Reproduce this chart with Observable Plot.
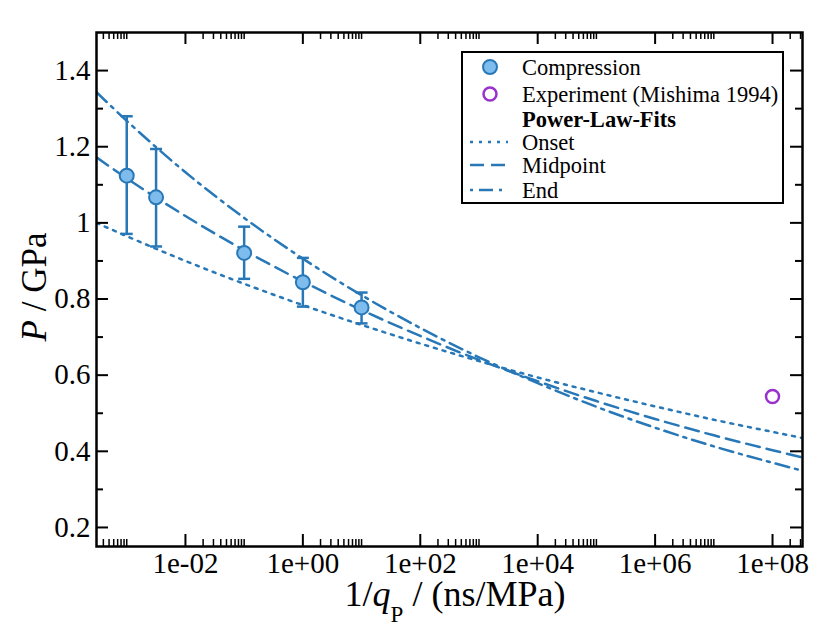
<!DOCTYPE html>
<html><head><meta charset="utf-8">
<script src="https://cdn.jsdelivr.net/npm/d3@7"></script>
<script src="https://cdn.jsdelivr.net/npm/@observablehq/plot@0.6"></script>
<style>body{margin:0;background:#fff}#chart{width:830px;height:642px}#chart svg, #chart svg text{font-family:"Liberation Serif", "Times New Roman", serif !important}</style>
</head><body><div id="chart"></div>
<script>
// Compression data (symbols with error bars)
const compX = [1e-3, 3.16e-3, 0.1, 1, 10];
const compP = [1.124, 1.067, 0.921, 0.844, 0.778];
const compLo = [0.971, 0.938, 0.853, 0.780, 0.736];
const compHi = [1.280, 1.194, 0.990, 0.908, 0.817];
// Experiment (Mishima 1994)
const expX = [1e8];
const expP = [0.544];
// Power-law fits, values
const fitX = [3.055e-4, 1e-3, 1e-2, 1e-1, 1, 10, 1e2, 1e3, 1e4, 1e5, 1e6, 1e7, 1e8, 3.24e8];
const onsetP = [1.000, 0.965, 0.900, 0.840, 0.784, 0.732, 0.683, 0.637, 0.594, 0.555, 0.518, 0.483, 0.451, 0.435];
const midP   = [1.172, 1.117, 1.018, 0.928, 0.846, 0.771, 0.703, 0.640, 0.584, 0.532, 0.485, 0.442, 0.403, 0.384];
const endP   = [1.343, 1.268, 1.133, 1.013, 0.906, 0.810, 0.724, 0.647, 0.579, 0.517, 0.462, 0.413, 0.370, 0.349];
// Ticks
const xTicks = [1e-2, 1, 1e2, 1e4, 1e6, 1e8];
const xTickLabels = ["1e-02", "1e+00", "1e+02", "1e+04", "1e+06", "1e+08"];
const xMinorDecades = [1e-4, 1e-2, 1, 1e2, 1e4, 1e6, 1e8];
const xMinorMultipliers = [2, 3, 4, 5, 6, 7, 8, 9, 10];
const yTicks = [0.2, 0.4, 0.6, 0.8, 1.0, 1.2, 1.4];
const yTickLabels = ["0.2", "0.4", "0.6", "0.8", "1", "1.2", "1.4"];
const yMinor = [0.3, 0.5, 0.7, 0.9, 1.1, 1.3];

const xDomain = [3.055e-4, 3.24e8];
const yDomain = [0.15, 1.5];

const W = 830, H = 642, mL = 96, mR = 28, mT = 32, mB = 96;
const pw = W - mL - mR, ph = H - mT - mB;
const BLUE = "#2878b8", LIGHT = "#7dbcec", PURPLE = "#9932cc";
const ff = "Liberation Serif";

const xMinor = xMinorDecades.flatMap(d => xMinorMultipliers.map(k => k * d))
  .filter(v => v > xDomain[0] && v < xDomain[1]);

const comp = compX.map((x, i) => ({x, p: compP[i], lo: compLo[i], hi: compHi[i]}));
const exp = expX.map((x, i) => ({x, p: expP[i]}));
const fit = arr => fitX.map((x, i) => ({x, p: arr[i]}));

const capSymbol = {draw(ctx, size) { const w = Math.sqrt(size / Math.PI); ctx.moveTo(-w, 0); ctx.lineTo(w, 0); }};

const majorLen = 12, minorLen = 7;

const chart = Plot.plot({
  width: W, height: H,
  marginLeft: mL, marginRight: mR, marginTop: mT, marginBottom: mB,
  style: {fontFamily: ff, background: "white", color: "black"},
  x: {type: "log", domain: xDomain, axis: null},
  y: {domain: yDomain, axis: null},
  marks: [
    // fits
    Plot.line(fit(onsetP), {x: "x", y: "p", stroke: BLUE, strokeWidth: 2.5, strokeDasharray: "3,6", curve: "monotone-x", clip: true}),
    Plot.line(fit(midP), {x: "x", y: "p", stroke: BLUE, strokeWidth: 2.5, strokeDasharray: "14,7", curve: "monotone-x", clip: true}),
    Plot.line(fit(endP), {x: "x", y: "p", stroke: BLUE, strokeWidth: 2.5, strokeDasharray: "14,6,3,6", curve: "monotone-x", clip: true}),
    // error bars
    Plot.ruleX(comp, {x: "x", y1: "lo", y2: "hi", stroke: BLUE, strokeWidth: 2.5}),
    Plot.dot(comp, {x: "x", y: "lo", symbol: capSymbol, r: 6, stroke: BLUE, strokeWidth: 2.5, fill: "none"}),
    Plot.dot(comp, {x: "x", y: "hi", symbol: capSymbol, r: 6, stroke: BLUE, strokeWidth: 2.5, fill: "none"}),
    Plot.dot(comp, {x: "x", y: "p", r: 7, fill: LIGHT, stroke: BLUE, strokeWidth: 2}),
    Plot.dot(exp, {x: "x", y: "p", r: 6.5, fill: "none", stroke: PURPLE, strokeWidth: 2.5}),
    // inward ticks: bottom, top
    Plot.tickX(xTicks, {x: d => d, insetTop: ph - majorLen, stroke: "black", strokeWidth: 2}),
    Plot.tickX(xMinor, {x: d => d, insetTop: ph - minorLen, stroke: "black", strokeWidth: 1.5}),
    Plot.tickX(xTicks, {x: d => d, insetBottom: ph - majorLen, stroke: "black", strokeWidth: 2}),
    Plot.tickX(xMinor, {x: d => d, insetBottom: ph - minorLen, stroke: "black", strokeWidth: 1.5}),
    // left, right
    Plot.tickY(yTicks, {y: d => d, insetRight: pw - majorLen, stroke: "black", strokeWidth: 2}),
    Plot.tickY(yMinor, {y: d => d, insetRight: pw - minorLen, stroke: "black", strokeWidth: 2}),
    Plot.tickY(yTicks, {y: d => d, insetLeft: pw - majorLen, stroke: "black", strokeWidth: 2}),
    Plot.tickY(yMinor, {y: d => d, insetLeft: pw - minorLen, stroke: "black", strokeWidth: 2}),
    // tick labels
    Plot.axisX(xTicks, {tickSize: 0, tickPadding: 6, fontSize: 29, fontFamily: ff, tickFormat: d => xTickLabels[xTicks.indexOf(d)], label: null}),
    Plot.axisY(yTicks, {tickSize: 0, tickPadding: 6, fontSize: 29, fontFamily: ff, tickFormat: d => yTickLabels[yTicks.indexOf(d)], label: null}),
    Plot.frame({stroke: "black", strokeWidth: 2.5})
  ]
});
document.getElementById("chart").appendChild(chart);

const svg = d3.select(chart);
// x title
const xt = svg.append("text").attr("x", mL + pw / 2 + 6).attr("y", 606).attr("text-anchor", "middle")
  .attr("font-family", ff).attr("font-size", 36).attr("fill", "black");
xt.append("tspan").text("1/");
xt.append("tspan").attr("font-style", "italic").text("q");
xt.append("tspan").attr("font-size", 23).attr("dy", 16).text("P");
xt.append("tspan").attr("dy", -16).text(" / (ns/MPa)");
// y title
const yt = svg.append("text").attr("transform", "translate(46,287) rotate(-90)").attr("text-anchor", "middle")
  .attr("font-family", ff).attr("font-size", 35).attr("fill", "black");
yt.append("tspan").attr("font-style", "italic").text("P");
yt.append("tspan").text(" / GPa");

// legend
const lg = svg.append("g").attr("font-family", ff).attr("font-size", 22.5).attr("text-anchor", "start");
lg.append("rect").attr("x", 462).attr("y", 52).attr("width", 321).attr("height", 151)
  .attr("fill", "white").attr("stroke", "black").attr("stroke-width", 2);
const rows = [
  {y: 67, label: "Compression", kind: "comp"},
  {y: 94, label: "Experiment (Mishima 1994)", kind: "exp"},
  {y: 119, label: "Power-Law-Fits", kind: "head"},
  {y: 142, label: "Onset", kind: "line", dash: "3,6"},
  {y: 165, label: "Midpoint", kind: "line", dash: "14,7"},
  {y: 190, label: "End", kind: "line", dash: "3,6,14,6"}
];
rows.forEach(r => {
  if (r.kind === "comp") lg.append("circle").attr("cx", 490).attr("cy", r.y).attr("r", 7).attr("fill", LIGHT).attr("stroke", BLUE).attr("stroke-width", 2);
  if (r.kind === "exp") lg.append("circle").attr("cx", 490).attr("cy", r.y).attr("r", 6.5).attr("fill", "none").attr("stroke", PURPLE).attr("stroke-width", 2.5);
  if (r.kind === "line") lg.append("line").attr("x1", 470).attr("x2", 508).attr("y1", r.y).attr("y2", r.y)
    .attr("stroke", BLUE).attr("stroke-width", 2.5).attr("stroke-dasharray", r.dash);
  lg.append("text").attr("x", 522).attr("y", r.y + 7.5).attr("fill", "black").attr("text-anchor", "start")
    .attr("font-weight", r.kind === "head" ? "bold" : null).text(r.label);
});
</script>
</body></html>
